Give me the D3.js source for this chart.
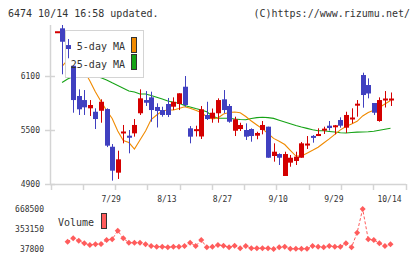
<!DOCTYPE html>
<html>
<head>
<meta charset="utf-8">
<script src="https://cdn.jsdelivr.net/npm/d3@7"></script>
<style>
body { margin: 0; background: #fff; }
svg { display: block; }
text { font-family: "DejaVu Sans Mono", monospace; fill: #333; }
</style>
</head>
<body>
<svg id="chart" width="420" height="259"></svg>
<script>
// daily prices, oldest first (61 trading days)
const opens  = [6583,6630,6444,6214,5878,5833,5741,5703,5714,5733,5314,5026,5467,5437,5463,5686,5833,5863,5756,5722,
                5789,5759,5789,5981,5519,5489,5428,5667,5628,5686,5841,5767,5492,5511,5500,5511,5437,5500,5537,5211,
                5233,4989,5137,5156,5192,5333,5433,5433,5500,5548,5539,5611,5526,5626,5778,6111,6000,5800,5600,5837,5837];
const highs  = [6590,6667,6511,6214,5952,5944,5833,5741,5841,5741,5344,5270,5556,5500,5622,5952,5933,5926,5797,5759,
                5856,5863,5908,6100,5544,5548,5767,5814,5739,5852,5944,5789,5648,5581,5574,5519,5481,5600,5537,5352,
                5241,5259,5222,5259,5367,5433,5444,5519,5537,5600,5556,5641,5703,5741,5833,6137,6074,5800,5863,5933,5917];
const lows   = [6583,6119,6297,5692,5667,5667,5656,5511,5581,5310,4937,4956,5352,5241,5426,5667,5767,5592,5528,5648,
                5644,5722,5722,5759,5352,5428,5400,5611,5581,5581,5686,5581,5433,5489,5389,5370,5397,5452,5192,5148,
                5111,4989,5092,5111,5192,5289,5359,5433,5456,5494,5452,5526,5467,5574,5648,5748,5852,5667,5592,5750,5767];
const closes = [6590,6481,6400,5833,5730,5752,5778,5622,5814,5326,5048,5174,5478,5414,5556,5852,5803,5722,5711,5667,
                5667,5814,5908,5778,5426,5508,5730,5622,5692,5833,5722,5592,5619,5556,5426,5433,5467,5556,5192,5259,
                5192,5233,5192,5204,5352,5344,5414,5456,5508,5522,5544,5548,5667,5630,5785,5889,5906,5692,5833,5841,5841];

// moving averages as drawn on the chart
const ma5  = [null,6206,6278,6300,6256,6156,6044,5922,5817,5717,5628,5489,5383,5361,5289,5389,5489,5617,5667,5711,
              5722,5722,5739,5758,5741,5719,5694,5648,5622,5633,5678,5694,5700,5692,5650,5600,5556,5513,5461,5407,
              5376,5339,5274,5211,5211,5242,5274,5308,5356,5402,5452,5502,5540,5567,5596,5656,5694,5719,5750,5789,5828];
const ma25 = [null,6028,6067,6094,6106,6111,6106,6094,6080,6056,6024,5994,5963,5933,5922,5900,5900,5884,5864,5844,
              5822,5809,5798,5773,5756,5738,5722,5702,5656,5630,5630,5630,5622,5616,5614,5627,5638,5641,5638,5629,
              5609,5589,5569,5550,5533,5518,5503,5492,5491,5484,5478,5469,5467,5472,5476,5478,5480,5487,5498,5509,5520];

// volume
const volumes = [null,null,152900,206500,168700,127700,100900,111900,116600,179700,190700,326300,206500,137100,137100,137100,111900,85100,74100,74100,
                 64600,74100,74100,85100,137100,85100,179700,64600,74100,100900,89800,64600,89800,48800,85100,48800,48800,48800,48800,37800,
                 64600,74100,41000,40000,42000,40500,85100,74100,64600,85100,74100,74100,127700,64600,294800,668500,190700,179700,127700,85100,111900];

const priceTicks = [4900, 5500, 6100];
const volumeTicks = [37800, 353150, 668500];
const dateTickIdx = [10, 20, 30, 40, 50, 60];
const dateTickLabels = ["7/29", "8/13", "8/27", "9/10", "9/29", "10/14"];

const RED = "#d40000", BLUE = "#4040c0";
const ORANGE = "#f08a00", GREEN = "#16a316", VOL = "#ff5c5c";

const svg = d3.select("#chart");

// header
svg.append("text").attr("x", 8).attr("y", 17).style("font-size", "10px")
    .text("6474 10/14 16:58 updated.");
svg.append("text").attr("x", 410).attr("y", 17).attr("text-anchor", "end").style("font-size", "10px")
    .text("(C)https://www.rizumu.net/");

const n = closes.length;
const x = d3.scaleLinear().domain([0, n - 1]).range([56.5, 390.5]);
const y = d3.scaleLinear().domain([4900, 6667]).range([184, 25]);
const yv = d3.scaleLinear().domain([37800, 668500]).range([249, 209]);

// axes
const axisColor = "#d4d4d4";
svg.append("line").attr("x1", 50.5).attr("x2", 50.5).attr("y1", 25).attr("y2", 184)
    .attr("stroke", axisColor).attr("stroke-width", 1.5);
svg.append("line").attr("x1", 50).attr("x2", 406).attr("y1", 184.5).attr("y2", 184.5)
    .attr("stroke", axisColor).attr("stroke-width", 1.5);

const grid = d3.scaleLinear().domain([0, 11]).range([50.5, 405.5]);
svg.selectAll(".xtick").data(d3.range(12)).enter().append("line")
    .attr("x1", d => Math.round(grid(d)) + 0.5).attr("x2", d => Math.round(grid(d)) + 0.5)
    .attr("y1", 184).attr("y2", 190)
    .attr("stroke", axisColor).attr("stroke-width", 1.5);

svg.selectAll(".ytick").data(priceTicks).enter().append("line")
    .attr("x1", 45).attr("x2", 55)
    .attr("y1", d => Math.round(y(d)) + 0.5).attr("y2", d => Math.round(y(d)) + 0.5)
    .attr("stroke", axisColor).attr("stroke-width", 1.5);

svg.selectAll(".ylabel").data(priceTicks).enter().append("text")
    .attr("x", 40).attr("y", d => y(d) + 3)
    .attr("text-anchor", "end").style("font-size", "8px")
    .text(d => d);

svg.selectAll(".xlabel").data(dateTickIdx).enter().append("text")
    .attr("x", d => x(d) - 1).attr("y", 201.5)
    .attr("text-anchor", "middle").style("font-size", "8px")
    .text((d, i) => dateTickLabels[i]);

// moving averages
const maLine = d3.line()
    .defined(d => d != null)
    .x((d, i) => x(i))
    .y(d => y(d));

svg.append("path").datum(ma25).attr("d", maLine)
    .attr("fill", "none").attr("stroke", GREEN).attr("stroke-width", 1.1);
svg.append("path").datum(ma5).attr("d", maLine)
    .attr("fill", "none").attr("stroke", ORANGE).attr("stroke-width", 1.1);

// legend box (sits over the lines, under the candles)
svg.append("rect").attr("x", 65.5).attr("y", 30.5).attr("width", 78).attr("height", 47)
    .attr("fill", "#fff").attr("stroke", "#d4d4d4");

// candles
const candles = svg.append("g");
for (let i = 0; i < n; i++) {
    const up = closes[i] >= opens[i];
    const col = up ? RED : BLUE;
    const cx = Math.round(x(i)) + 0.5;
    candles.append("line")
        .attr("x1", cx).attr("x2", cx)
        .attr("y1", y(highs[i])).attr("y2", y(lows[i]))
        .attr("stroke", col).attr("stroke-width", 1);
    const top = y(Math.max(opens[i], closes[i]));
    const bot = y(Math.min(opens[i], closes[i]));
    const h = Math.max(2, bot - top);
    candles.append("rect")
        .attr("x", cx - 2.5).attr("width", 5)
        .attr("y", h === 2 ? (top + bot) / 2 - 1 : top).attr("height", h)
        .attr("fill", col);
}

// legend text + swatches
svg.append("text").attr("x", 125).attr("y", 50).attr("text-anchor", "end")
    .style("font-size", "10px").text("5-day MA");
svg.append("text").attr("x", 125).attr("y", 67.5).attr("text-anchor", "end")
    .style("font-size", "10px").text("25-day MA");
svg.append("rect").attr("x", 131.5).attr("y", 37.5).attr("width", 5).attr("height", 15)
    .attr("fill", ORANGE).attr("stroke", "#333");
svg.append("rect").attr("x", 131.5).attr("y", 54.5).attr("width", 5).attr("height", 15)
    .attr("fill", GREEN).attr("stroke", "#333");

// volume panel
svg.selectAll(".vlabel").data(volumeTicks).enter().append("text")
    .attr("x", 44).attr("y", d => yv(d) + 3)
    .attr("text-anchor", "end").style("font-size", "8px")
    .text(d => d);

svg.append("text").attr("x", 58).attr("y", 226).style("font-size", "10px").text("Volume");
svg.append("rect").attr("x", 101.5).attr("y", 213.5).attr("width", 5).attr("height", 15)
    .attr("fill", VOL).attr("stroke", "#333");

const volLine = d3.line()
    .defined(d => d != null)
    .x((d, i) => x(i))
    .y(d => yv(d));
svg.append("path").datum(volumes).attr("d", volLine)
    .attr("fill", "none").attr("stroke", VOL).attr("stroke-width", 1)
    .attr("stroke-dasharray", "3,2");

// diamond markers: small squares turned 45 degrees
svg.selectAll(".vdot").data(volumes.map((v, i) => [i, v]).filter(d => d[1] != null))
    .enter().append("path")
    .attr("d", d3.symbol().type(d3.symbolSquare).size(18))
    .attr("transform", d => "translate(" + x(d[0]) + "," + yv(d[1]) + ") rotate(45)")
    .attr("fill", VOL);
</script>
</body>
</html>
